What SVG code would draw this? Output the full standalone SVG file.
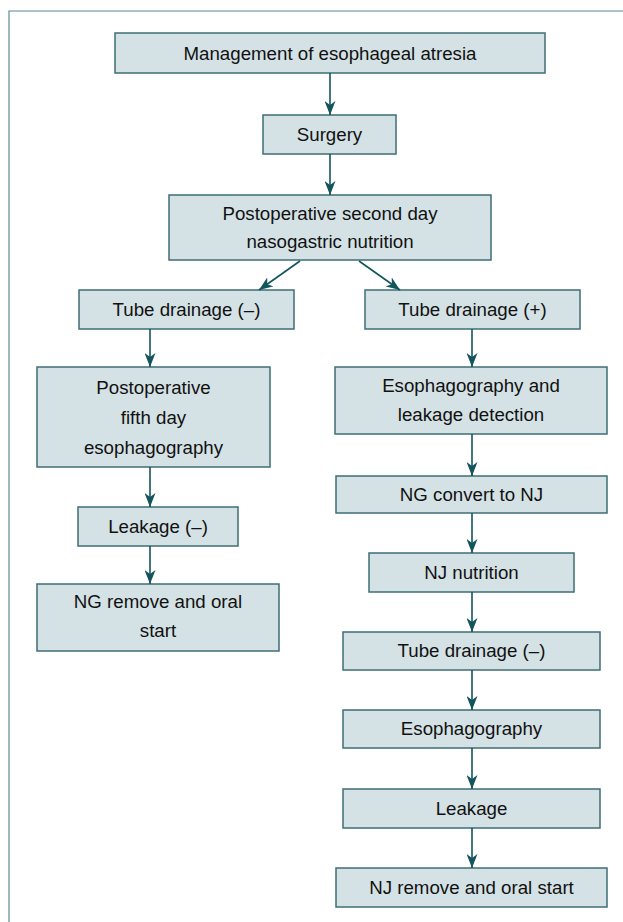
<svg xmlns="http://www.w3.org/2000/svg" width="623" height="922" viewBox="0 0 623 922">
<defs>
<marker id="ah" viewBox="0 0 14 11" refX="14" refY="5.5" markerWidth="14" markerHeight="11" markerUnits="userSpaceOnUse" orient="auto">
<path d="M0,0 L14,5.5 L0,11 L4,5.5 Z" fill="#14545d"/>
</marker>
<style>
.box{fill:#d4e2e5;stroke:#3f6e76;stroke-width:1.5}
.t{font-family:"Liberation Sans",Arial,sans-serif;font-size:18.7px;fill:#111;text-anchor:middle}
.c{stroke:#14545d;stroke-width:1.6;fill:none;marker-end:url(#ah)}
</style>
</defs>
<rect width="623" height="922" fill="#fff"/>
<path d="M9,922 L9,11 L623,11" fill="none" stroke="#5b8a90" stroke-width="1.2"/>
<g id="n1"><rect class="box" x="115" y="33" width="430" height="40"/><text class="t" x="330" y="59.5">Management of esophageal atresia</text></g>
<g id="n2"><rect class="box" x="263" y="115" width="133" height="39"/><text class="t" x="329.5" y="141">Surgery</text></g>
<g id="n3"><rect class="box" x="169" y="195" width="322" height="65"/><text class="t" x="330" y="220">Postoperative second day</text><text class="t" x="330" y="248">nasogastric nutrition</text></g>
<g id="n4"><rect class="box" x="79" y="290" width="215" height="39"/><text class="t" x="186.5" y="316">Tube drainage (–)</text></g>
<g id="n5"><rect class="box" x="365" y="290" width="215" height="39"/><text class="t" x="472.5" y="316">Tube drainage (+)</text></g>
<g id="n6"><rect class="box" x="37" y="367" width="233" height="100"/><text class="t" x="153.5" y="394">Postoperative</text><text class="t" x="153.5" y="424">fifth day</text><text class="t" x="153.5" y="454">esophagography</text></g>
<g id="n7"><rect class="box" x="78" y="507" width="160" height="39"/><text class="t" x="158" y="533">Leakage (–)</text></g>
<g id="n8"><rect class="box" x="37" y="584" width="242" height="67"/><text class="t" x="158" y="608">NG remove and oral</text><text class="t" x="158" y="637">start</text></g>
<g id="n9"><rect class="box" x="335" y="367" width="272" height="67"/><text class="t" x="471" y="392">Esophagography and</text><text class="t" x="471" y="421">leakage detection</text></g>
<g id="n10"><rect class="box" x="336" y="476" width="271" height="37"/><text class="t" x="471.5" y="501">NG convert to NJ</text></g>
<g id="n11"><rect class="box" x="369" y="553" width="205" height="39"/><text class="t" x="471.5" y="579">NJ nutrition</text></g>
<g id="n12"><rect class="box" x="343" y="632" width="257" height="38"/><text class="t" x="471.5" y="657">Tube drainage (–)</text></g>
<g id="n13"><rect class="box" x="343" y="710" width="257" height="38"/><text class="t" x="471.5" y="735">Esophagography</text></g>
<g id="n14"><rect class="box" x="343" y="789" width="257" height="39"/><text class="t" x="471.5" y="815">Leakage</text></g>
<g id="n15"><rect class="box" x="336" y="868" width="271" height="39"/><text class="t" x="471.5" y="894">NJ remove and oral start</text></g>
<g id="connectors">
<line class="c" x1="330" y1="73" x2="330" y2="115"/>
<line class="c" x1="330" y1="154" x2="330" y2="195"/>
<line class="c" x1="300" y1="261" x2="259" y2="290"/>
<line class="c" x1="359" y1="261" x2="400" y2="290"/>
<line class="c" x1="150" y1="329" x2="150" y2="367"/>
<line class="c" x1="150" y1="467" x2="150" y2="507"/>
<line class="c" x1="150" y1="546" x2="150" y2="584"/>
<line class="c" x1="472" y1="329" x2="472" y2="367"/>
<line class="c" x1="472" y1="434" x2="472" y2="476"/>
<line class="c" x1="472" y1="513" x2="472" y2="553"/>
<line class="c" x1="472" y1="592" x2="472" y2="632"/>
<line class="c" x1="472" y1="670" x2="472" y2="710"/>
<line class="c" x1="472" y1="748" x2="472" y2="789"/>
<line class="c" x1="472" y1="828" x2="472" y2="868"/>
</g>
</svg>
